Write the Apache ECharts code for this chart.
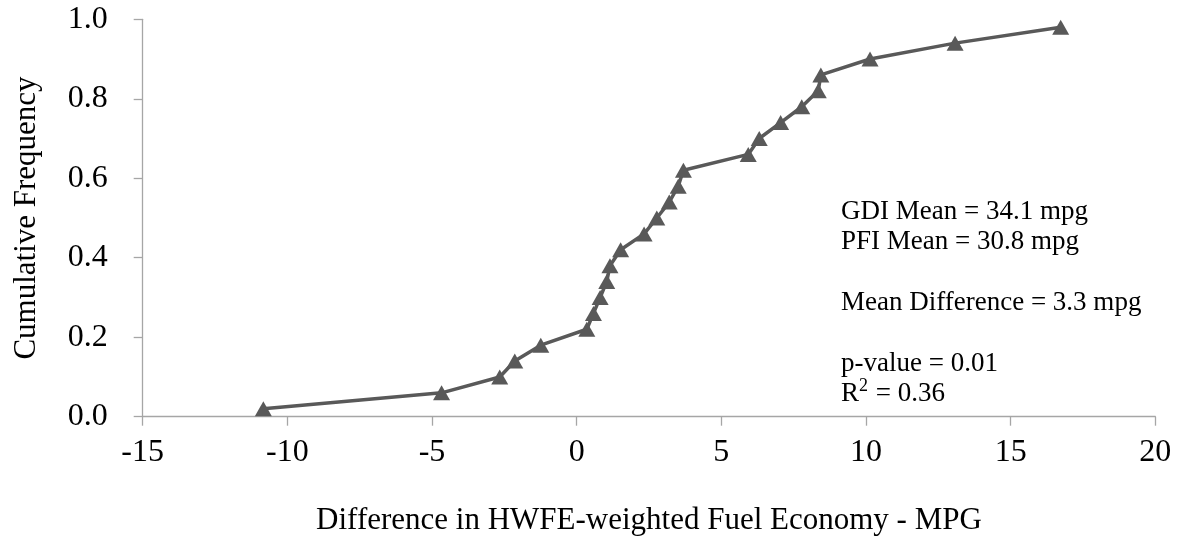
<!DOCTYPE html>
<html>
<head>
<meta charset="utf-8">
<script src="https://cdn.jsdelivr.net/npm/echarts@6/dist/echarts.min.js"></script>
<style>
  html, body { margin: 0; padding: 0; background: #ffffff; }
  #chart { width: 1185px; height: 544px; }
</style>
</head>
<body>
<div id="chart"></div>
<script>
// Per-vehicle fuel economy differences (GDI - PFI), sorted, in MPG
const mpgDifference = [
  -10.83, -4.67, -2.66, -2.14, -1.24, 0.35, 0.58, 0.81, 1.04, 1.15,
  1.52, 2.33, 2.77, 3.20, 3.51, 3.69, 5.93, 6.31, 7.05, 7.78,
  8.35, 8.44, 10.14, 13.08, 16.73
];
// Cumulative frequency for each sorted difference
const cumulativeFrequency = [
  0.02, 0.06, 0.10, 0.14, 0.18, 0.22, 0.26, 0.30, 0.34, 0.38,
  0.42, 0.46, 0.50, 0.54, 0.58, 0.62, 0.66, 0.70, 0.74, 0.78,
  0.82, 0.86, 0.90, 0.94, 0.98
];
// Summary statistics shown beside the curve
const statLines = [
  'GDI Mean = 34.1 mpg',
  'PFI Mean = 30.8 mpg',
  '',
  'Mean Difference = 3.3 mpg',
  '',
  'p-value = 0.01',
  '{a|R}{s|2}{a| = 0.36}'
];

const FONT = '"Liberation Serif", "Times New Roman", serif';
const INK = '#595959';
const AXIS = '#a6a6a6';

const points = mpgDifference.map((x, i) => [x, cumulativeFrequency[i]]);

// Annotation block: one text element per line
const statsLeft = 841;
const statsTop = 212;
const statsStep = 30.3;
const statGraphics = [];
statLines.forEach((line, i) => {
  if (!line) return;
  statGraphics.push({
    type: 'text',
    left: statsLeft,
    y: statsTop + i * statsStep,
    style: {
      text: line,
      fill: '#000000',
      font: '27px ' + FONT,
      verticalAlign: 'middle',
      rich: {
        a: { fontFamily: FONT, fontSize: 27, fill: '#000000', lineHeight: 30 },
        s: { fontFamily: FONT, fontSize: 18, fill: '#000000', padding: [0, 1, 16, 0] }
      }
    }
  });
});

const chart = echarts.init(document.getElementById('chart'), null, { renderer: 'canvas' });
chart.setOption({
  backgroundColor: '#ffffff',
  animation: false,
  grid: {
    left: 142.7,
    right: 29.7,
    top: 19.3,
    bottom: 127.3,
    containLabel: false,
    outerBoundsMode: 'none'
  },
  xAxis: {
    type: 'value',
    min: -15,
    max: 20,
    interval: 5,
    name: 'Difference in HWFE-weighted Fuel Economy - MPG',
    nameLocation: 'middle',
    nameGap: 89,
    nameTextStyle: { fontFamily: FONT, fontSize: 31, color: '#000000' },
    axisLine: { show: true, onZero: false, lineStyle: { color: AXIS, width: 1.3 } },
    axisTick: { show: true, inside: false, length: 9, lineStyle: { color: AXIS, width: 1.3 } },
    axisLabel: {
      fontFamily: FONT, fontSize: 32, color: '#000000', margin: 20,
      formatter: v => String(v)
    },
    splitLine: { show: false }
  },
  yAxis: {
    type: 'value',
    min: 0,
    max: 1,
    interval: 0.2,
    name: 'Cumulative Frequency',
    nameLocation: 'middle',
    nameRotate: 90,
    nameGap: 100,
    nameTextStyle: { fontFamily: FONT, fontSize: 31, color: '#000000' },
    axisLine: { show: true, onZero: false, lineStyle: { color: AXIS, width: 1.3 } },
    axisTick: { show: true, inside: false, length: 9, lineStyle: { color: AXIS, width: 1.3 } },
    axisLabel: {
      fontFamily: FONT, fontSize: 32, color: '#000000', margin: 35,
      formatter: v => v.toFixed(1)
    },
    splitLine: { show: false }
  },
  series: [{
    type: 'line',
    data: points,
    symbol: 'triangle',
    symbolSize: [17, 15],
    showAllSymbol: true,
    lineStyle: { color: INK, width: 3.5 },
    itemStyle: { color: INK, borderWidth: 0 },
    emphasis: { disabled: true },
    z: 3
  }],
  graphic: statGraphics
});
</script>
</body>
</html>
